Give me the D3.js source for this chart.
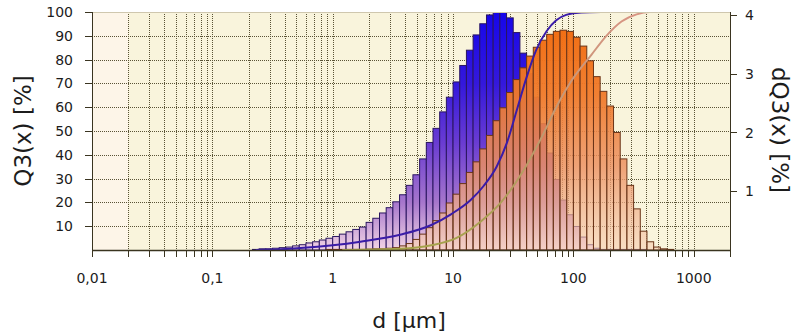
<!DOCTYPE html>
<html>
<head>
<meta charset="utf-8">
<script src="https://cdn.jsdelivr.net/npm/d3@7"></script>
<style>
  body { margin: 0; background: #fff; }
  svg { display: block; }
  text { font-family: "DejaVu Sans", Verdana, sans-serif; fill: #1c1c1c; }
</style>
</head>
<body>
<svg id="chart" width="800" height="335"></svg>
<script>
// histogram classes: logarithmic, 18 per decade
const binsPerDecade = 18;

// blue sample, dQ3 per class [%], first class starts at 0.2154 µm
const blueFirstEdge = 0.2154;
const blueDQ3 = [0.01, 0.02, 0.02, 0.03, 0.04, 0.05, 0.07, 0.09, 0.12, 0.14,
  0.17, 0.2, 0.23, 0.27, 0.31, 0.35, 0.39, 0.47, 0.54, 0.63,
  0.72, 0.82, 0.94, 1.1, 1.28, 1.55, 1.83, 2.07, 2.35, 2.6,
  2.86, 3.14, 3.4, 3.66, 3.85, 4.0, 4.05, 4.05, 3.95, 3.7,
  3.35, 3.0, 2.6, 2.15, 1.65, 1.2, 0.85, 0.6, 0.4, 0.22,
  0.09, 0.03, 0.01, 0.01, 0.01, 0.01, 0.01, 0.01, 0.01];

// orange sample, first class starts at 0.8799 µm
const orangeFirstEdge = 0.8799;
const orangeDQ3 = [0.01, 0.01, 0.01, 0.01, 0.01, 0.01, 0.015, 0.02, 0.02, 0.03,
  0.04, 0.07, 0.11, 0.18, 0.27, 0.38, 0.5, 0.63, 0.8, 0.95,
  1.13, 1.32, 1.5, 1.72, 1.95, 2.2, 2.42, 2.68, 2.9, 3.1,
  3.3, 3.45, 3.57, 3.67, 3.72, 3.74, 3.72, 3.62, 3.47, 3.22,
  2.95, 2.7, 2.45, 2.0, 1.55, 1.1, 0.7, 0.32, 0.14, 0.05,
  0.02, 0.01];

// cumulative curves Q3(x) [%]
const blueSizes = [0.23, 0.37, 0.54, 1.0, 1.7, 3.7, 6.6, 9.6, 14, 18, 23, 28, 33.5, 40.5, 49, 60, 72, 87, 117, 170];
const blueQ3 = [0, 0.3, 0.8, 2, 3.5, 6.5, 10.5, 15, 21, 27, 35, 45, 58, 72, 84, 92, 96.5, 98.8, 99.8, 100];
const orangeSizes = [1.2, 3.7, 6.6, 10.6, 17, 25, 37, 54, 72, 96, 141, 188, 251, 335, 430, 2000];
const orangeQ3 = [0, 0.5, 2, 5, 12, 20, 32, 47, 60, 71, 82, 90, 96, 99, 100, 100];

const xMajorTicks = [0.01, 0.1, 1, 10, 100, 1000];
const xTickLabels = ['0,01', '0,1', '1', '10', '100', '1000'];
const leftTicks = [10, 20, 30, 40, 50, 60, 70, 80, 90, 100];
const rightTicks = [1, 2, 3, 4];

const W = 800, H = 335;
const plot = { left: 92, right: 730, top: 12, bottom: 250 };

const svg = d3.select('#chart');
const x = d3.scaleLog().domain([0.01, 2000]).range([plot.left, plot.right]);
const yL = d3.scaleLinear().domain([0, 100]).range([plot.bottom, plot.top]);
const yR = d3.scaleLinear().domain([0, 4.05]).range([plot.bottom, plot.top]);

// all tick positions 1..9 x 10^k inside the domain
const allTicks = [];
for (let e = -2; e <= 3; e++) {
  for (let m = 1; m <= 9; m++) {
    const v = m * Math.pow(10, e);
    if (v <= 2000) allTicks.push(+v.toPrecision(3));
  }
}
allTicks.push(2000);

const defs = svg.append('defs');
defs.append('clipPath').attr('id', 'plotClip').append('rect')
  .attr('x', plot.left).attr('y', plot.top)
  .attr('width', plot.right - plot.left).attr('height', plot.bottom - plot.top);

function vGrad(id, stops) {
  const g = defs.append('linearGradient').attr('id', id)
    .attr('gradientUnits', 'userSpaceOnUse')
    .attr('x1', 0).attr('y1', plot.top).attr('x2', 0).attr('y2', plot.bottom);
  stops.forEach(s => {
    g.append('stop').attr('offset', s[0]).attr('stop-color', s[1]).attr('stop-opacity', s[2] == null ? 1 : s[2]);
  });
}
vGrad('blueGrad', [[0, '#1606ea'], [0.3, '#3418dc'], [0.55, '#6a3cd2'], [0.8, '#a676cc'], [1, '#f2d4e4']]);
vGrad('orangeGrad', [[0, '#f26a0c', 1], [0.35, '#f07a2a', 0.95], [0.65, '#ec9060', 0.82], [1, '#f8d0b4', 0.6]]);
vGrad('orangeLine', [[0, '#d89484'], [0.5, '#c09a70'], [1, '#a4a24a']]);

// background
svg.append('rect').attr('width', W).attr('height', H).attr('fill', '#fff');
svg.append('rect')
  .attr('x', plot.left).attr('y', plot.top)
  .attr('width', plot.right - plot.left).attr('height', plot.bottom - plot.top)
  .attr('fill', '#f9f4dc');
svg.append('rect')
  .attr('x', plot.left).attr('y', plot.top)
  .attr('width', x(0.02) - plot.left).attr('height', plot.bottom - plot.top)
  .attr('fill', '#fdf5e8');

// grid
const grid = svg.append('g').attr('stroke', '#5a5336').attr('stroke-dasharray', '1,1').attr('stroke-width', 1);
grid.selectAll('line.v').data(allTicks.filter(t => t > 0.01 && t < 2000)).join('line')
  .attr('class', 'v')
  .attr('x1', d => Math.round(x(d)) + 0.5).attr('x2', d => Math.round(x(d)) + 0.5)
  .attr('y1', plot.top).attr('y2', plot.bottom);
grid.selectAll('line.h').data(leftTicks.filter(t => t < 100)).join('line')
  .attr('class', 'h')
  .attr('x1', plot.left).attr('x2', plot.right)
  .attr('y1', d => Math.round(yL(d)) + 0.5).attr('y2', d => Math.round(yL(d)) + 0.5);

// histogram bars
function bars(values, firstEdge, fill, stroke) {
  const step = Math.pow(10, 1 / binsPerDecade);
  svg.append('g').attr('clip-path', 'url(#plotClip)')
    .selectAll('rect').data(values).join('rect')
    .attr('x', (d, i) => x(firstEdge * Math.pow(step, i)))
    .attr('width', (d, i) => x(firstEdge * Math.pow(step, i + 1)) - x(firstEdge * Math.pow(step, i)))
    .attr('y', d => yR(d))
    .attr('height', d => plot.bottom - yR(d))
    .attr('fill', fill)
    .attr('stroke', stroke)
    .attr('stroke-width', 1);
}
bars(blueDQ3, blueFirstEdge, 'url(#blueGrad)', '#2a1660');
bars(orangeDQ3, orangeFirstEdge, 'url(#orangeGrad)', '#6a3418');

// cumulative curves
const line = d3.line().curve(d3.curveMonotoneX);
svg.append('path')
  .attr('clip-path', 'url(#plotClip)')
  .attr('d', line(blueSizes.map((s, i) => [x(s), yL(blueQ3[i])])))
  .attr('fill', 'none').attr('stroke', '#3a1ca8').attr('stroke-width', 2);
svg.append('path')
  .attr('clip-path', 'url(#plotClip)')
  .attr('d', line(orangeSizes.map((s, i) => [x(s), yL(orangeQ3[i])])))
  .attr('fill', 'none').attr('stroke', 'url(#orangeLine)').attr('stroke-width', 2);

// frame
svg.append('line').attr('x1', plot.left).attr('x2', plot.right).attr('y1', plot.top + 0.5).attr('y2', plot.top + 0.5)
  .attr('stroke', '#cfc7ae');
const axisColor = '#3a3420';
svg.append('line').attr('x1', plot.left + 0.5).attr('x2', plot.left + 0.5).attr('y1', plot.top).attr('y2', plot.bottom + 0.5)
  .attr('stroke', axisColor);
svg.append('line').attr('x1', plot.right + 0.5).attr('x2', plot.right + 0.5).attr('y1', plot.top).attr('y2', plot.bottom + 0.5)
  .attr('stroke', axisColor);
svg.append('line').attr('x1', plot.left).attr('x2', plot.right + 1).attr('y1', plot.bottom + 0.5).attr('y2', plot.bottom + 0.5)
  .attr('stroke', axisColor).attr('stroke-width', 1.5);

// x ticks and labels
svg.append('g').selectAll('line').data(allTicks).join('line')
  .attr('x1', d => Math.round(x(d)) + 0.5).attr('x2', d => Math.round(x(d)) + 0.5)
  .attr('y1', plot.bottom).attr('y2', plot.bottom + 7)
  .attr('stroke', axisColor);
svg.append('g').selectAll('text').data(xMajorTicks).join('text')
  .attr('x', d => x(d)).attr('y', plot.bottom + 33)
  .attr('text-anchor', 'middle').attr('font-size', 14)
  .text((d, i) => xTickLabels[i]);

// left axis
svg.append('g').selectAll('line').data(leftTicks).join('line')
  .attr('x1', plot.left - 7).attr('x2', plot.left)
  .attr('y1', d => Math.round(yL(d)) + 0.5).attr('y2', d => Math.round(yL(d)) + 0.5)
  .attr('stroke', axisColor);
svg.append('g').selectAll('text').data(leftTicks).join('text')
  .attr('x', plot.left - 19).attr('y', d => yL(d))
  .attr('dy', '0.36em').attr('text-anchor', 'end').attr('font-size', 14)
  .text(d => d);

// right axis
svg.append('g').selectAll('line').data(rightTicks).join('line')
  .attr('x1', plot.right).attr('x2', plot.right + 7)
  .attr('y1', d => Math.round(yR(d)) + 0.5).attr('y2', d => Math.round(yR(d)) + 0.5)
  .attr('stroke', axisColor);
svg.append('g').selectAll('text').data(rightTicks).join('text')
  .attr('x', plot.right + 15).attr('y', d => yR(d))
  .attr('dy', '0.36em').attr('text-anchor', 'start').attr('font-size', 14)
  .text(d => d);

// axis titles
svg.append('text')
  .attr('transform', 'translate(31,131) rotate(-90)')
  .attr('text-anchor', 'middle').attr('font-size', 23)
  .text('Q3(x) [%]');
svg.append('text')
  .attr('transform', 'translate(772,130) rotate(90)')
  .attr('text-anchor', 'middle').attr('font-size', 23)
  .text('dQ3(x) [%]');
svg.append('text')
  .attr('x', 409).attr('y', 328)
  .attr('text-anchor', 'middle').attr('font-size', 22)
  .text('d [µm]');
</script>
</body>
</html>
